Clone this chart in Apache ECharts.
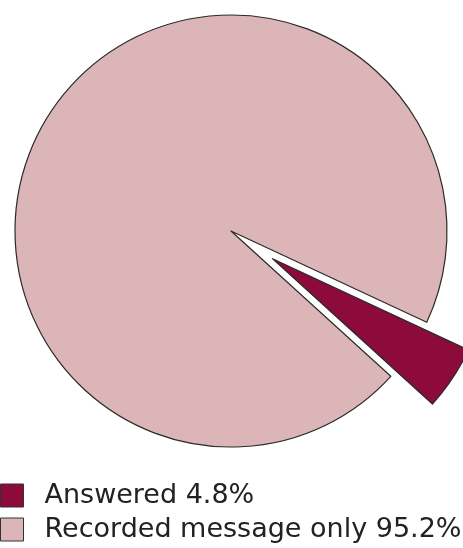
<!DOCTYPE html>
<html>
<head>
<meta charset="utf-8">
<script src="https://cdn.jsdelivr.net/npm/echarts@6/dist/echarts.min.js"></script>
<style>html,body{margin:0;padding:0;background:#fff}#c{width:463px;height:548px}</style>
</head>
<body>
<div id="c"></div>
<script>
var categories = ['Answered', 'Recorded message only'];
var values = [4.8, 95.2];
var colors = ['#8c0b3b', '#dbb5b7'];

var chart = echarts.init(document.getElementById('c'), null, {renderer: 'canvas'});
var data = categories.map(function (n, i) {
  return {name: n, value: values[i], selected: i === 0, itemStyle: {color: colors[i]}};
});
chart.setOption({
  animation: false,
  legend: {
    orient: 'vertical',
    left: 0,
    top: 482,
    height: 70,
    padding: 0,
    itemWidth: 23,
    itemHeight: 23,
    itemGap: 7,
    icon: 'rect',
    selectedMode: false,
    itemStyle: {borderColor: '#333', borderWidth: 1},
    textStyle: {fontFamily: 'DejaVu Sans', fontSize: 27, lineHeight: 23, color: '#222', padding: [0, 0, 0, 16]},
    formatter: function (name) {
      var i = categories.indexOf(name);
      return name + ' ' + values[i] + '%';
    },
    data: categories
  },
  series: [{
    type: 'pie',
    center: [231, 231],
    radius: 216,
    startAngle: -25,
    clockwise: true,
    selectedMode: 'single',
    selectedOffset: 50,
    label: {show: false},
    labelLine: {show: false},
    emphasis: {disabled: true},
    itemStyle: {borderColor: '#2a2a2a', borderWidth: 1.2},
    data: data
  }]
});
</script>
</body>
</html>
